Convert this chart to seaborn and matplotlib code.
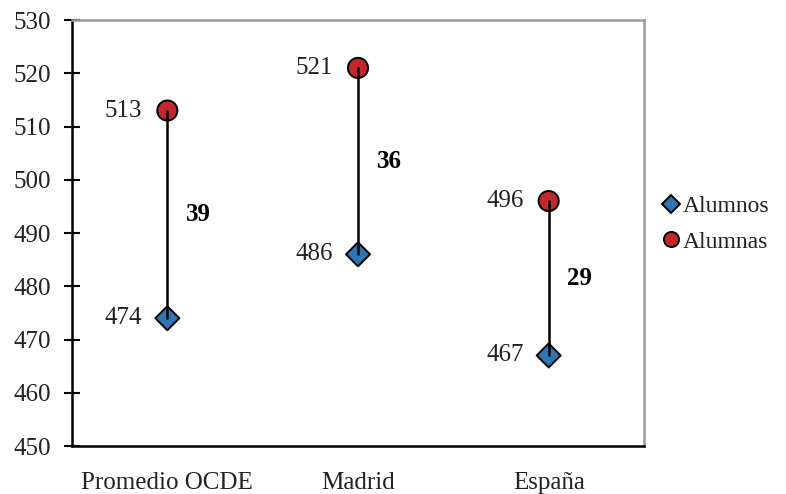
import matplotlib
matplotlib.use("Agg")
import matplotlib.pyplot as plt
import seaborn as sns
import pandas as pd

categorias = ["Promedio OCDE", "Madrid", "España"]
alumnos = [474, 486, 467]
alumnas = [513, 521, 496]
diferencias = [39, 36, 29]
y_ticks = [450, 460, 470, 480, 490, 500, 510, 520, 530]

sns.set_theme(style="white")
plt.rcParams["font.family"] = ["Liberation Serif", "DejaVu Serif"]

df = pd.DataFrame({
    "categoria": categorias * 2,
    "x": list(range(len(categorias))) * 2,
    "puntuacion": alumnos + alumnas,
    "grupo": ["Alumnos"] * len(categorias) + ["Alumnas"] * len(categorias),
})

fig = plt.figure(figsize=(7.86, 4.94), dpi=100)
ax = fig.add_axes([72 / 786, 1 - 446 / 494, (644 - 72) / 786, (446 - 20) / 494])

# vertical connectors between the two groups
for i in range(len(categorias)):
    ax.plot([i, i], [alumnos[i], alumnas[i]], color="black", lw=1.8, zorder=3)

sns.scatterplot(
    data=df, x="x", y="puntuacion", hue="grupo", style="grupo", size="grupo",
    palette={"Alumnos": "#2E75B6", "Alumnas": "#C1272D"},
    markers={"Alumnos": "D", "Alumnas": "o"},
    sizes={"Alumnos": 150, "Alumnas": 210},
    edgecolor="black", linewidth=1.4, ax=ax, zorder=2,
    hue_order=["Alumnos", "Alumnas"], style_order=["Alumnos", "Alumnas"],
    size_order=["Alumnos", "Alumnas"],
)

txt = "#222222"
fs = 18
for i in range(len(categorias)):
    ax.annotate(f"{alumnos[i]}", (i, alumnos[i]), xytext=(-25, 0),
                textcoords="offset pixels", ha="right", va="center",
                fontsize=fs, color=txt)
    ax.annotate(f"{alumnas[i]}", (i, alumnas[i]), xytext=(-25, 0),
                textcoords="offset pixels", ha="right", va="center",
                fontsize=fs, color=txt)
    ax.annotate(f"{diferencias[i]}", (i, (alumnos[i] + alumnas[i]) / 2),
                xytext=(31, 0), textcoords="offset pixels", ha="center",
                va="center", fontsize=fs, fontweight="bold", color="black")

ax.set_xlim(-0.5, len(categorias) - 0.5)
ax.set_ylim(450, 530)
ax.set_yticks(y_ticks)
ax.set_xticks(range(len(categorias)))
ax.set_xticklabels(categorias)
ax.set_xlabel("")
ax.set_ylabel("")
ax.tick_params(axis="y", direction="inout", length=12, width=1.5, color="black",
               labelsize=fs, pad=9, left=True, labelcolor=txt)
ax.tick_params(axis="x", length=0, labelsize=fs, pad=19, labelcolor=txt)

for side in ["left", "bottom"]:
    ax.spines[side].set_color("black")
    ax.spines[side].set_linewidth(1.8)
for side in ["top", "right"]:
    ax.spines[side].set_color("#999999")
    ax.spines[side].set_linewidth(1.8)

leg = ax.legend(loc="center left", bbox_to_anchor=(1.01, 0.521), frameon=False,
                fontsize=17, handletextpad=0.0, labelspacing=0.6,
                markerscale=0.75, borderaxespad=0, handlelength=1.0)
for t in leg.get_texts():
    t.set_color(txt)

fig.savefig("out.png", dpi=100)
